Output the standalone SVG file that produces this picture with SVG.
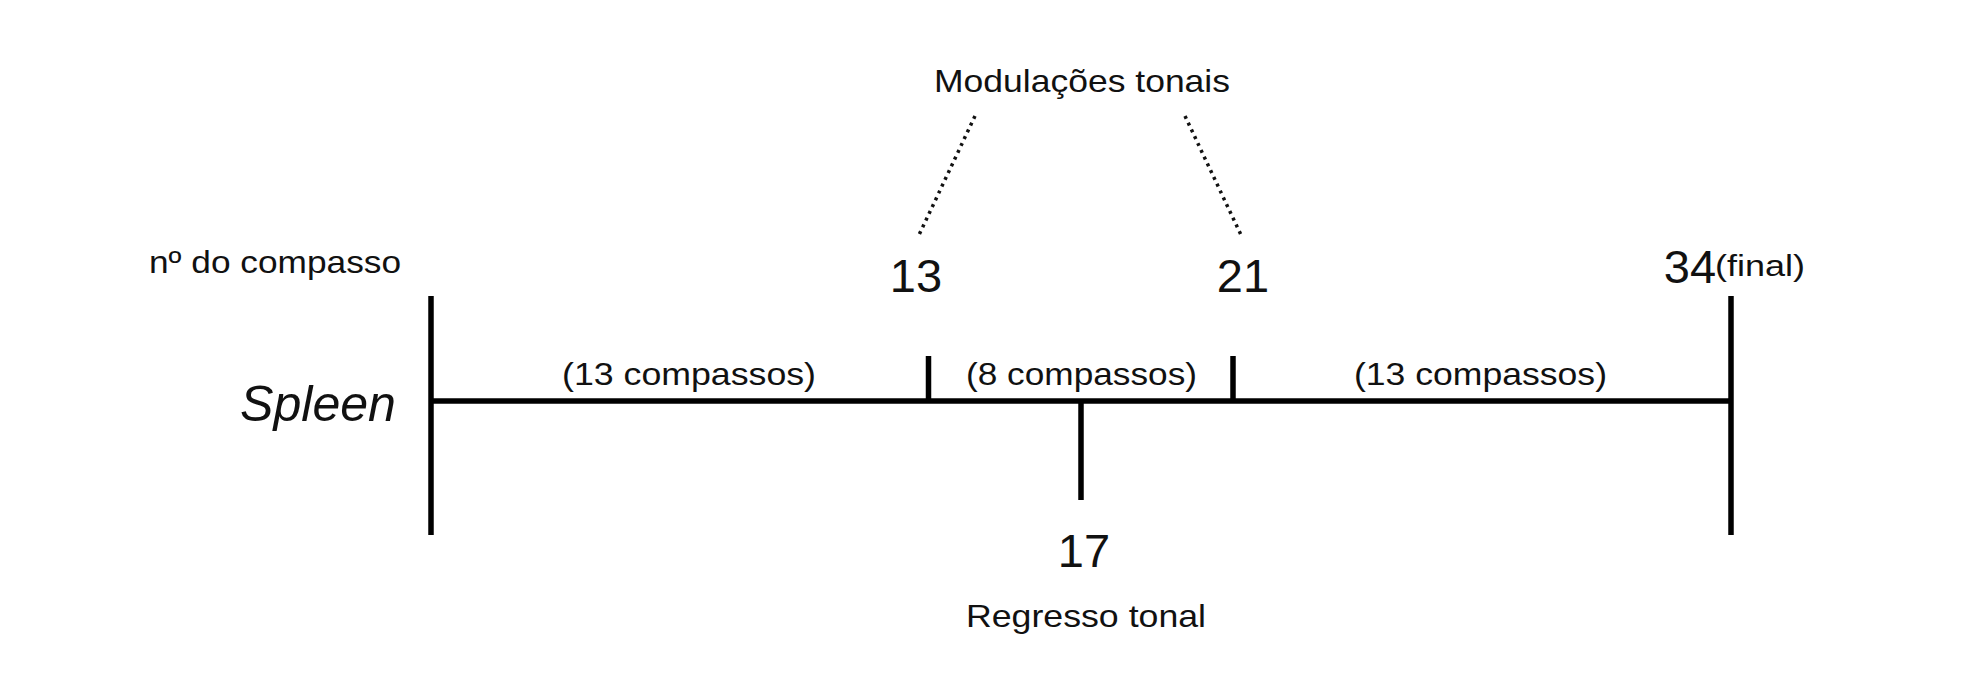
<svg xmlns="http://www.w3.org/2000/svg" width="1970" height="678" viewBox="0 0 1970 678">
<style>
text{font-family:"Liberation Sans",Arial,sans-serif;fill:#111}
.lbl{font-size:32px}
.num{font-size:47px;text-anchor:middle}
.bar{stroke:#000;stroke-width:5.5;fill:none}
.dot{stroke:#111;stroke-width:3.5;stroke-dasharray:3 4.5;fill:none}
</style>
<rect width="1970" height="678" fill="#fff"/>
<g id="labels">
<text id="axis-label" class="lbl" x="149" y="273" textLength="252" lengthAdjust="spacingAndGlyphs">nº do compasso</text>
<text id="title" x="240" y="421" font-size="50" font-style="italic" textLength="156" lengthAdjust="spacingAndGlyphs">Spleen</text>
</g>
<g id="connectors">
<line class="bar" x1="431" y1="296" x2="431" y2="535"/>
<line class="bar" x1="1731" y1="296" x2="1731" y2="535"/>
<line class="bar" x1="431" y1="401" x2="1731" y2="401"/>
<line class="bar" x1="928.5" y1="356" x2="928.5" y2="401"/>
<line class="bar" x1="1233" y1="356" x2="1233" y2="401"/>
<line class="bar" x1="1081" y1="401" x2="1081" y2="500"/>
<line class="dot" x1="975" y1="116" x2="919" y2="235"/>
<line class="dot" x1="1185" y1="116" x2="1241" y2="235"/>
</g>
<g id="node-modulacoes">
<text class="lbl" x="934" y="92" font-size="35" textLength="296" lengthAdjust="spacingAndGlyphs">Modulações tonais</text>
</g>
<g id="node-13">
<text class="num" x="916" y="292">13</text>
</g>
<g id="node-21">
<text class="num" x="1243" y="292">21</text>
</g>
<g id="node-34">
<text class="num" x="1690" y="283">34</text>
<text x="1715" y="276" font-size="30" textLength="90" lengthAdjust="spacingAndGlyphs">(final)</text>
</g>
<g id="node-17">
<text class="num" x="1084" y="567">17</text>
<text class="lbl" x="966" y="627" textLength="240" lengthAdjust="spacingAndGlyphs">Regresso tonal</text>
</g>
<g id="segments">
<text class="lbl" x="562" y="385" textLength="254" lengthAdjust="spacingAndGlyphs">(13 compassos)</text>
<text class="lbl" x="966" y="385" textLength="231" lengthAdjust="spacingAndGlyphs">(8 compassos)</text>
<text class="lbl" x="1354" y="385" textLength="253" lengthAdjust="spacingAndGlyphs">(13 compassos)</text>
</g>
</svg>
